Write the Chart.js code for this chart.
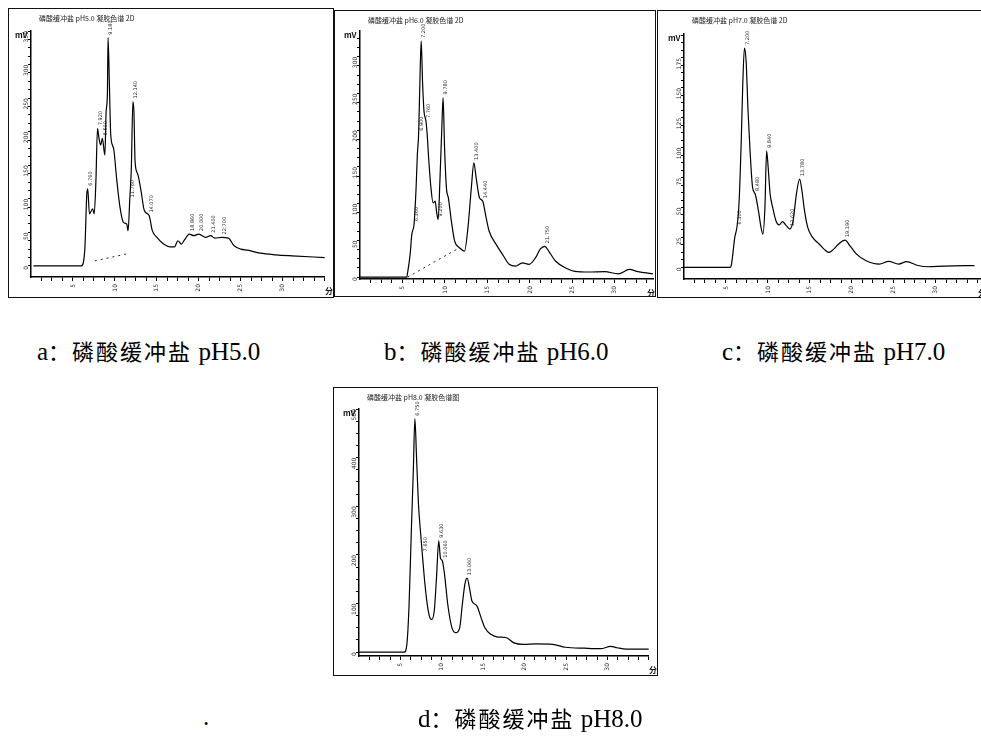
<!DOCTYPE html>
<html>
<head>
<meta charset="utf-8">
<script src="https://cdn.jsdelivr.net/npm/chart.js@4.4.1/dist/chart.umd.min.js"></script>
<style>
  body { margin: 0; background: #fff; width: 981px; height: 738px; overflow: hidden; position: relative; }
  .panel { position: absolute; border: 1.5px solid #111; box-sizing: border-box; background: #fff; overflow: hidden; }
  .panel canvas { position: absolute; left: 0; top: 0; }
  .title { position: absolute; font: 7px "Noto Sans CJK SC", sans-serif; color: #222; white-space: nowrap; }
  .unit { position: absolute; font: bold 8px "Noto Sans CJK SC", sans-serif; color: #111; }
  .cap { position: absolute; font-size: 25px; line-height: 26px; font-family: "Liberation Serif", "Noto Sans CJK SC", serif; color: #000; white-space: nowrap; }
  .cap span { font-family: "Noto Sans CJK SC", sans-serif; font-size: 22px; letter-spacing: 2px; }
</style>
</head>
<body>

<div class="panel" id="pa" style="left:8px; top:8px; width:326px; height:290px;"><canvas id="ca"></canvas></div>
<div class="panel" id="pb" style="left:334px; top:10px; width:322px; height:287px;"><canvas id="cb"></canvas></div>
<div class="panel" id="pc" style="left:657px; top:10px; width:330px; height:288px;"><canvas id="cc"></canvas></div>
<div class="panel" id="pd" style="left:333px; top:387px; width:325px; height:289px;"><canvas id="cd"></canvas></div>

<div class="cap" style="left:37px; top:337px;">a<span>：磷酸缓冲盐</span> pH5.0</div>
<div class="cap" style="left:384px; top:337px;">b<span>：磷酸缓冲盐</span> pH6.0</div>
<div class="cap" style="left:722px; top:337px;">c<span>：磷酸缓冲盐</span> pH7.0</div>
<div class="cap" style="left:418px; top:704px;">d<span>：磷酸缓冲盐</span> pH8.0</div>
<div class="cap" style="left:203px; top:704px;">.</div>

<script>
// pH 5.0
const timeA = [0.3, 6.0, 6.4, 6.65, 6.76, 6.96, 7.34, 7.53, 7.73, 7.92, 8.1, 8.3, 8.5, 8.8, 8.95, 9.1, 9.18, 9.34, 9.5, 9.84,
  10.2, 10.6, 11.0, 11.4, 11.57, 11.76, 11.95, 12.14, 12.26, 12.4, 12.7, 13.1, 13.5, 14.07, 14.45, 15.0, 15.8, 16.55, 17.1, 17.5,
  17.9, 18.3, 18.86, 19.4, 20.0, 20.8, 21.4, 21.9, 22.7, 23.5, 24.2, 25.0, 25.8, 27.3, 29.2, 31.1, 35];
const signalA = [0, 0, 0.45, 2.15, 2.3, 1.55, 1.7, 1.55, 2.5, 4.1, 3.8, 3.6, 3.8, 3.3, 4.6, 5.1, 6.8, 5.4, 3.9, 3.5,
  2.6, 1.75, 1.3, 1.25, 1.05, 1.95, 2.9, 4.9, 4.6, 3.1, 2.75, 2.25, 1.65, 1.5, 1.05, 0.85, 0.65, 0.57, 0.57, 0.75,
  0.65, 0.78, 0.95, 0.9, 0.95, 0.85, 0.9, 0.83, 0.85, 0.83, 0.6, 0.5, 0.47, 0.38, 0.33, 0.3, 0.25];
const baseTimeA = [7.6, 11.6];
const baseSignalA = [0.15, 0.37];
const peaksA = [6.76, 7.92, 8.5, 9.18, 11.76, 12.14, 14.07, 18.86, 20.0, 21.4, 22.7];

// pH 6.0
const timeB = [0, 5.5, 5.6, 5.9, 6.1, 6.36, 6.6, 6.75, 6.9, 7.06, 7.2, 7.37, 7.53, 7.76, 7.9, 8.1, 8.35, 8.6, 8.85, 9.0,
  9.2, 9.4, 9.63, 9.78, 9.94, 10.17, 10.4, 10.75, 11.14, 11.7, 12.3, 12.7, 13.1, 13.4, 13.67, 14.06, 14.44, 14.84, 15.2, 16.0,
  16.77, 17.55, 18.3, 19.1, 19.9, 20.66, 21.2, 21.75, 22.2, 23.0, 24.2, 25.3, 26.9, 28.8, 30.4, 31.7, 32.7, 34.5];
const signalB = [0, 0, 0.12, 0.62, 1.17, 1.44, 2.43, 3.34, 3.9, 5.43, 6.43, 5.25, 4.52, 4.25, 3.9, 3.16, 2.43, 2.02, 2.07, 1.8,
  1.57, 2.6, 4.07, 4.89, 3.6, 2.43, 2.16, 1.53, 0.98, 0.8, 0.71, 1.34, 2.43, 3.11, 2.7, 2.16, 2.07, 1.62, 1.25, 0.9,
  0.62, 0.35, 0.3, 0.39, 0.35, 0.53, 0.76, 0.84, 0.71, 0.44, 0.25, 0.16, 0.14, 0.15, 0.09, 0.21, 0.15, 0.09];
const baseTimeB = [5.6, 11.7];
const baseSignalB = [0, 0.8];
const peaksB = [6.36, 6.9, 7.2, 7.76, 9.2, 9.78, 13.4, 14.44, 21.75];

// pH 7.0
const timeC = [0, 5.5, 5.66, 6.05, 6.3, 6.55, 6.82, 7.0, 7.2, 7.4, 7.63, 7.87, 8.17, 8.48, 8.87, 9.18, 9.4, 9.64, 9.84, 10.03,
  10.26, 10.57, 10.95, 11.35, 11.73, 12.1, 12.62, 13.0, 13.39, 13.78, 14.05, 14.36, 14.75, 15.32, 16.1, 16.68, 17.26, 17.84, 18.42, 19.19,
  19.77, 20.55, 21.7, 23.25, 24.4, 25.57, 26.5, 27.9, 29.05, 31.0, 34.6];
const signalC = [0, 0, 0.11, 1.0, 1.33, 2.11, 4.22, 6.11, 7.33, 6.89, 5.22, 3.89, 2.67, 2.45, 1.89, 1.33, 1.11, 2.0, 3.89, 3.33,
  2.45, 2.0, 1.56, 1.42, 1.53, 1.42, 1.28, 1.56, 2.45, 2.95, 2.56, 1.89, 1.33, 1.0, 0.78, 0.61, 0.5, 0.61, 0.78, 0.91,
  0.72, 0.44, 0.22, 0.11, 0.2, 0.11, 0.19, 0.06, 0.02, 0.04, 0.06];
const peaksC = [6.3, 7.2, 8.48, 9.84, 12.62, 13.78, 19.19];

// pH 8.0
const timeD = [0, 5.47, 5.78, 6.05, 6.32, 6.56, 6.75, 6.95, 7.18, 7.42, 7.65, 7.89, 8.19, 8.5, 8.77, 9.09, 9.36, 9.63, 9.83, 10.06,
  10.33, 10.72, 11.23, 11.7, 12.16, 12.48, 12.79, 13.06, 13.33, 13.64, 14.23, 14.74, 15.2, 15.98, 16.76, 17.73, 18.7, 19.87, 21.44, 23.38,
  24.94, 27.28, 29.2, 30.4, 31.17, 32.3, 35];
const signalD = [0, 0, 0.16, 0.98, 2.49, 3.73, 4.8, 4.0, 3.05, 2.49, 2.01, 1.53, 1.05, 0.74, 0.67, 0.85, 1.53, 2.29, 1.94, 1.88,
  1.6, 0.98, 0.5, 0.4, 0.5, 0.98, 1.4, 1.52, 1.33, 1.05, 0.95, 0.71, 0.5, 0.36, 0.31, 0.3, 0.19, 0.16, 0.17, 0.16,
  0.1, 0.08, 0.07, 0.12, 0.09, 0.06, 0.06];
const peaksD = [6.75, 7.65, 9.63, 10.06, 13.06];

// tick labels
const xTickLabels = ['5', '10', '15', '20', '25', '30'];
const yTickLabelsA = ['0', '50', '100', '150', '200', '250', '300', '350'];
const yTickLabelsB = ['0', '50', '100', '150', '200', '250', '300'];
const yTickLabelsC = ['0', '25', '50', '75', '100', '125', '150', '175'];
const yTickLabelsD = ['0', '100', '200', '300', '400', '500'];

const titles = ['磷酸缓冲盐 pH5.0 凝胶色谱 2D', '磷酸缓冲盐 pH6.0 凝胶色谱 2D', '磷酸缓冲盐 pH7.0 凝胶色谱 2D', '磷酸缓冲盐 pH8.0 凝胶色谱图'];

function zip(xs, ys) {
  return xs.map((x, i) => ({ x: x, y: ys[i] }));
}

// rotated retention-time labels over the peaks
const peakLabels = {
  id: 'peakLabels',
  afterDatasetsDraw(chart, args, opts) {
    const ctx = chart.ctx;
    const xs = chart.scales.x, ys = chart.scales.y;
    const pts = chart.data.datasets[0].data;
    ctx.save();
    ctx.fillStyle = '#222';
    ctx.font = '5px "DejaVu Sans"';
    ctx.textBaseline = 'middle';
    opts.peaks.forEach(t => {
      let best = pts[0];
      pts.forEach(p => { if (Math.abs(p.x - t) < Math.abs(best.x - t)) best = p; });
      const px = xs.getPixelForValue(best.x) + 3;
      const py = ys.getPixelForValue(best.y) - 3;
      ctx.save();
      ctx.translate(px, py);
      ctx.rotate(-Math.PI / 2);
      ctx.fillText(best.x.toFixed(3), 0, 0);
      ctx.restore();
    });
    ctx.restore();
  }
};

function makeChart(id, panel, area, t, s, baseT, baseS, peaks, xMax, yMin, yMax, yLabels, title) {
  const box = document.getElementById(panel).getBoundingClientRect();
  const cv = document.getElementById(id);
  cv.width = box.width;
  cv.height = box.height;

  const el = document.createElement('div');
  el.className = 'title';
  el.textContent = title;
  el.style.left = (area.left - box.left + 8) + 'px';
  el.style.top = '4px';
  document.getElementById(panel).appendChild(el);

  const u = document.createElement('div');
  u.className = 'unit';
  u.textContent = 'mV';
  u.style.left = (area.left - box.left - 16) + 'px';
  u.style.top = (area.top - box.top - 2) + 'px';
  document.getElementById(panel).appendChild(u);

  const m = document.createElement('div');
  m.className = 'unit';
  m.textContent = '分';
  m.style.left = (box.width - 10) + 'px';
  m.style.top = (area.bottom - box.top + 8) + 'px';
  document.getElementById(panel).appendChild(m);

  const datasets = [{
    data: zip(t, s),
    borderColor: '#000',
    borderWidth: 1.2,
    pointRadius: 0,
    cubicInterpolationMode: 'monotone'
  }];
  if (baseT) {
    datasets.push({
      data: zip(baseT, baseS),
      borderColor: '#222',
      borderWidth: 1,
      borderDash: [2, 4],
      pointRadius: 0
    });
  }

  return new Chart(cv, {
    type: 'line',
    data: { datasets: datasets },
    options: {
      responsive: false,
      animation: false,
      events: [],
      layout: {
        padding: {
          top: area.top - box.top,
          right: Math.max(0, box.left + box.width - area.right),
          left: 0,
          bottom: 0
        }
      },
      plugins: { legend: { display: false }, tooltip: { enabled: false }, peakLabels: { peaks: peaks } },
      scales: {
        x: {
          type: 'linear',
          min: 0,
          max: xMax,
          afterFit: sc => { sc.height = box.top + box.height - area.bottom; },
          afterBuildTicks: sc => {
            const ticks = [];
            for (let v = 1.25; v <= xMax; v += 1.25) ticks.push({ value: v });
            sc.ticks = ticks;
          },
          grid: { drawOnChartArea: false, tickLength: 4, color: '#000', lineWidth: 1 },
          border: { color: '#000', width: 1.5 },
          ticks: {
            autoSkip: false,
            minRotation: 90,
            maxRotation: 90,
            padding: 3,
            color: '#222',
            font: { size: 6, family: 'DejaVu Sans' },
            callback: v => (Math.abs(v % 5) < 1e-6 && v / 5 <= xTickLabels.length) ? xTickLabels[v / 5 - 1] : ''
          }
        },
        y: {
          min: yMin,
          max: yMax,
          afterFit: sc => { sc.width = area.left - box.left; },
          afterBuildTicks: sc => {
            const ticks = [];
            for (let v = 0; v <= yMax + 1e-6; v += 0.25) ticks.push({ value: v });
            sc.ticks = ticks;
          },
          grid: { drawOnChartArea: false, tickLength: 3, color: '#000', lineWidth: 1 },
          border: { color: '#000', width: 1.5 },
          ticks: {
            autoSkip: false,
            minRotation: 90,
            maxRotation: 90,
            padding: 2,
            color: '#222',
            font: { size: 6, family: 'DejaVu Sans' },
            callback: v => (Math.abs(v % 1) < 1e-6 && v >= 0 && v < yLabels.length) ? yLabels[v] : ''
          }
        }
      }
    },
    plugins: [peakLabels]
  });
}

makeChart('ca', 'pa', { left: 30, top: 30, right: 334, bottom: 276 }, timeA, signalA, baseTimeA, baseSignalA, peaksA,
  35, -0.33, 7.0, yTickLabelsA, titles[0]);
makeChart('cb', 'pb', { left: 359, top: 30, right: 656, bottom: 278 }, timeB, signalB, baseTimeB, baseSignalB, peaksB,
  34.5, -0.05, 6.7, yTickLabelsB, titles[1]);
makeChart('cc', 'pc', { left: 683, top: 33, right: 987, bottom: 278 }, timeC, signalC, null, null, peaksC,
  35.3, -0.39, 7.8, yTickLabelsC, titles[2]);
makeChart('cd', 'pd', { left: 358, top: 408, right: 658, bottom: 655 }, timeD, signalD, null, null, peaksD,
  35, -0.08, 5.0, yTickLabelsD, titles[3]);
</script>
</body>
</html>
